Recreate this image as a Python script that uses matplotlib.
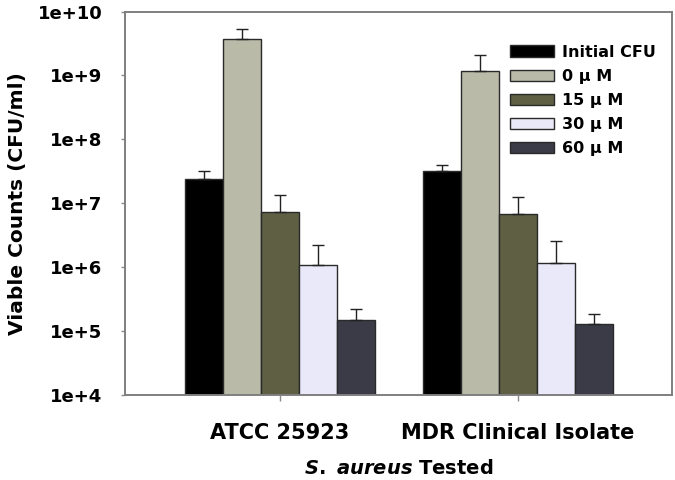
import numpy as np
import matplotlib.pyplot as plt
from matplotlib.ticker import FixedLocator, FuncFormatter, NullLocator

plt.rcParams["mathtext.fontset"] = "custom"
plt.rcParams["mathtext.it"] = "DejaVu Sans:bold:italic"
plt.rcParams["mathtext.rm"] = "DejaVu Sans:bold"

strains = ["ATCC 25923", "MDR Clinical Isolate"]
treatments = ["Initial CFU", "0 \u03bc M", "15 \u03bc M", "30 \u03bc M", "60 \u03bc M"]

# mean viable counts (CFU/ml), rows = treatment, cols = strain
counts = [
    [2.36e7, 3.18e7],
    [3.73e9, 1.18e9],
    [7.3e6, 6.9e6],
    [1.07e6, 1.18e6],
    [1.47e5, 1.29e5],
]
# upper end of the error bars
err_top = [
    [3.2e7, 3.9e7],
    [5.3e9, 2.1e9],
    [1.37e7, 1.26e7],
    [2.2e6, 2.6e6],
    [2.19e5, 1.87e5],
]

colors = ["#000000", "#b9baa8", "#5f5f43", "#e9e9f9", "#3b3b48"]

fig = plt.figure(figsize=(6.75, 4.8), dpi=100)
ax = fig.add_axes([0.185, 0.177, 0.8106, 0.799])

x = np.arange(len(strains))
width = 0.16
offsets = (np.arange(len(treatments)) - 2) * width

for i, name in enumerate(treatments):
    vals = np.array(counts[i])
    yerr = np.array(err_top[i]) - vals
    ax.bar(x + offsets[i], vals, width, color=colors[i], edgecolor="#2a2a2a",
           linewidth=1.0, label=name, log=True, zorder=2)
    ax.errorbar(x + offsets[i], vals, yerr=[np.zeros_like(yerr), yerr],
                fmt="none", ecolor="#222222", elinewidth=1.0, capsize=4,
                capthick=1.0, zorder=3)

ax.set_yscale("log")
ax.set_ylim(1e4, 1e10)
ax.set_xlim(-0.651, 1.647)
ax.yaxis.set_major_locator(FixedLocator([10.0 ** k for k in range(4, 11)]))
ax.yaxis.set_minor_locator(NullLocator())
ax.yaxis.set_major_formatter(FuncFormatter(lambda v, p: "1e+%d" % round(np.log10(v))))

ax.set_xticks(x)
ax.set_xticklabels(strains)

for s in ax.spines.values():
    s.set_color("#7f7f7f")
    s.set_linewidth(1.4)

ax.tick_params(axis="y", length=3, width=1, color="#8a8a8a", pad=13)
ax.tick_params(axis="x", length=4, width=1, color="#8a8a8a", pad=16)
for lab in ax.get_yticklabels():
    lab.set_fontfamily("DejaVu Sans")
    lab.set_fontweight("bold")
    lab.set_fontsize(13)
for lab in ax.get_xticklabels():
    lab.set_fontfamily("DejaVu Sans")
    lab.set_fontweight("bold")
    lab.set_fontsize(15)

ax.set_ylabel("Viable Counts (CFU/ml)", fontfamily="DejaVu Sans",
              fontweight="bold", fontsize=14.5, labelpad=8)
ax.set_xlabel(r"$\it{S.\ aureus}$ Tested", fontfamily="DejaVu Sans",
              fontweight="bold", fontsize=14, labelpad=12)

leg = ax.legend(loc="upper left", bbox_to_anchor=(0.693, 0.93), frameon=False,
                prop={"family": "DejaVu Sans", "weight": "bold", "size": 11.5},
                handlelength=2.7, handleheight=0.72, labelspacing=0.57,
                handletextpad=0.55, borderaxespad=0)

plt.savefig("out.png", dpi=100)
